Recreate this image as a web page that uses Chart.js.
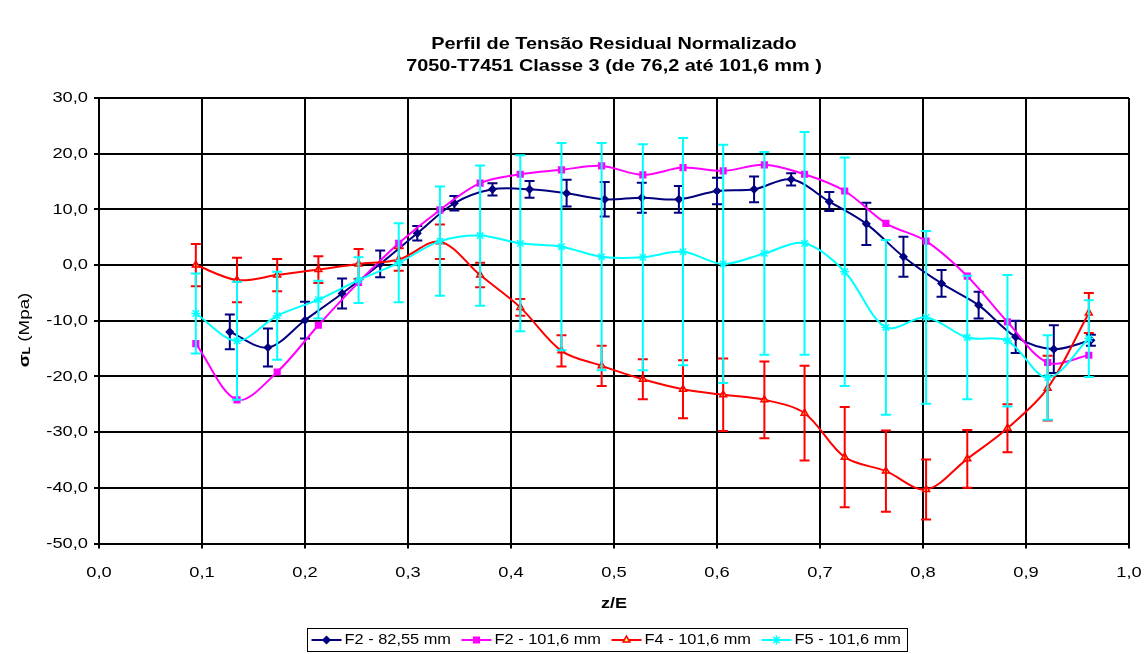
<!DOCTYPE html>
<html>
<head>
<meta charset="utf-8">
<script src="https://cdn.jsdelivr.net/npm/chart.js@4.4.1/dist/chart.umd.min.js"></script>
<style>
  html, body { margin: 0; padding: 0; background: #ffffff; }
  #wrap { width: 1148px; height: 654px; }
</style>
</head>
<body>
<div id="wrap"><canvas id="c" width="1148" height="654"></canvas></div>
<script>
// ---- text ----
const chartTitle = ['Perfil de Tensão Residual Normalizado', '7050-T7451 Classe 3 (de 76,2 até 101,6 mm )'];
const xTitle = 'z/E';
const yTitleSymbol = 'σ';
const yTitleSub = 'L';
const yTitleRest = ' (Mpa)';
const seriesNames = ['F2 - 82,55 mm', 'F2 - 101,6 mm', 'F4 - 101,6 mm', 'F5 - 101,6 mm'];

// ---- axis ticks ----
const xTicks = [0.0, 0.1, 0.2, 0.3, 0.4, 0.5, 0.6, 0.7, 0.8, 0.9, 1.0];
const yTicks = [30, 20, 10, 0, -10, -20, -30, -40, -50];

// ---- positions through the thickness (z/E) ----
const zE_82 = [0.127, 0.164, 0.200, 0.236, 0.273, 0.309, 0.345, 0.382, 0.418, 0.454, 0.491, 0.527,
               0.563, 0.600, 0.636, 0.672, 0.709, 0.745, 0.781, 0.818, 0.854, 0.890, 0.927, 0.963];
const zE_101 = [0.094, 0.134, 0.173, 0.213, 0.252, 0.291, 0.331, 0.370, 0.409, 0.449, 0.488, 0.528,
                0.567, 0.606, 0.646, 0.685, 0.724, 0.764, 0.803, 0.843, 0.882, 0.921, 0.961];

// ---- normalized residual stress (MPa) and scatter (±) ----
const f2_82_val = [-12.0, -14.8, -9.9, -5.1, 0.2, 5.7, 11.1, 13.6, 13.6, 12.9, 11.8, 12.1,
                   11.8, 13.3, 13.6, 15.4, 11.4, 7.4, 1.5, -3.3, -7.2, -12.9, -15.1, -13.5];
const f2_82_err = [3.1, 3.4, 3.3, 2.7, 2.4, 1.3, 1.3, 1.1, 1.5, 2.4, 3.1, 2.7,
                   2.4, 2.4, 2.3, 1.1, 1.7, 3.8, 3.6, 2.4, 2.4, 2.9, 4.3, 1.0];

const f2_101_val = [-14.1, -24.2, -19.2, -10.8, -3.1, 3.9, 9.9, 14.7, 16.3, 17.1, 17.8, 16.2,
                    17.5, 16.9, 18.0, 16.3, 13.3, 7.5, 4.3, -2.0, -10.2, -17.5, -16.2];

const f4_101_val = [0.0, -2.7, -1.8, -0.8, 0.2, 1.0, 4.2, -1.8, -7.6, -15.4, -18.1, -20.5,
                    -22.3, -23.3, -24.2, -26.6, -34.5, -37.0, -40.3, -34.8, -29.3, -22.1, -8.6];
const f4_101_err = [3.8, 4.0, 2.9, 2.4, 2.7, 2.0, 3.1, 2.2, 1.5, 2.8, 3.6, 3.6,
                    5.2, 6.5, 6.9, 8.5, 9.0, 7.3, 5.4, 5.2, 4.3, 5.8, 3.6];

const f5_101_val = [-8.7, -13.6, -9.1, -6.2, -2.7, 0.4, 4.3, 5.3, 3.9, 3.3, 1.5, 1.4,
                    2.4, 0.2, 2.1, 3.9, -1.2, -11.2, -9.4, -13.0, -13.6, -20.2, -13.2];
const f5_101_err = [7.2, 10.6, 7.9, 3.4, 4.1, 7.1, 9.8, 12.6, 15.8, 18.6, 20.4, 20.3,
                    20.4, 21.4, 18.2, 20.0, 20.5, 15.7, 15.5, 11.1, 11.8, 7.6, 6.9];

const FONT = "'Liberation Sans', Arial, sans-serif";
const toPoints = (xs, ys) => xs.map((x, i) => ({ x: x, y: ys[i] }));

function makeSet(label, xs, ys, errs, color, style, radius, fill, order) {
  return {
    label: label,
    data: toPoints(xs, ys),
    errs: errs,
    borderColor: color,
    backgroundColor: fill,
    borderWidth: 2,
    pointStyle: style,
    pointRadius: radius,
    pointBorderColor: color,
    pointBackgroundColor: fill,
    pointBorderWidth: 1.5,
    tension: 0.33,
    showLine: true,
    fill: false,
    order: order
  };
}

const datasets = [
  makeSet(seriesNames[0], zE_82, f2_82_val, f2_82_err, '#000080', 'rectRot', 3.5, '#000080', 4),
  makeSet(seriesNames[1], zE_101, f2_101_val, null, '#ff00ff', 'rect', 4, '#ff00ff', 3),
  makeSet(seriesNames[2], zE_101, f4_101_val, f4_101_err, '#ff0000', 'triangle', 4, '#ffff66', 2),
  makeSet(seriesNames[3], zE_101, f5_101_val, f5_101_err, '#00ffff', 'star', 4.5, '#00ffff', 1)
];

// draw text with an optional horizontal stretch
function drawText(ctx, text, x, y, font, align, sx) {
  ctx.save();
  ctx.translate(x, y);
  ctx.scale(sx, 1);
  ctx.font = font;
  ctx.textAlign = align;
  ctx.textBaseline = 'middle';
  ctx.fillStyle = '#000000';
  ctx.fillText(text, 0, 0);
  ctx.restore();
}

// vertical error bars with caps, per dataset
const errorBars = {
  id: 'errorBars',
  afterDatasetDraw(chart, args) {
    const ds = chart.data.datasets[args.index];
    if (!ds.errs) return;
    const ctx = chart.ctx;
    const yScale = chart.scales.y;
    const xScale = chart.scales.x;
    ctx.save();
    ctx.strokeStyle = ds.borderColor;
    ctx.lineWidth = 2;
    ds.data.forEach((p, i) => {
      const x = xScale.getPixelForValue(p.x);
      const yTop = yScale.getPixelForValue(p.y + ds.errs[i]);
      const yBot = yScale.getPixelForValue(p.y - ds.errs[i]);
      const w = 5;
      ctx.beginPath();
      ctx.moveTo(x, yTop); ctx.lineTo(x, yBot);
      ctx.moveTo(x - w, yTop); ctx.lineTo(x + w, yTop);
      ctx.moveTo(x - w, yBot); ctx.lineTo(x + w, yBot);
      ctx.stroke();
    });
    ctx.restore();
  }
};

// titles, tick labels and the boxed legend
const textLayer = {
  id: 'textLayer',
  afterDraw(chart) {
    const ctx = chart.ctx;
    const area = chart.chartArea;
    const xs = chart.scales.x, ys = chart.scales.y;
    const cx = (area.left + area.right) / 2;

    drawText(ctx, chartTitle[0], cx, 44, 'bold 17px ' + FONT, 'center', 1.17);
    drawText(ctx, chartTitle[1], cx, 66, 'bold 17px ' + FONT, 'center', 1.17);

    yTicks.forEach(v => {
      drawText(ctx, v.toFixed(1).replace('.', ','), area.left - 11, ys.getPixelForValue(v), '15px ' + FONT, 'right', 1.22);
    });
    xTicks.forEach(v => {
      drawText(ctx, v.toFixed(1).replace('.', ','), xs.getPixelForValue(v), area.bottom + 29, '15px ' + FONT, 'center', 1.22);
    });

    drawText(ctx, xTitle, cx, 604, 'bold 15px ' + FONT, 'center', 1.2);

    // rotated y-axis title
    ctx.save();
    ctx.translate(25, 330);
    ctx.rotate(-Math.PI / 2);
    ctx.scale(1.25, 1);
    ctx.fillStyle = '#000000';
    ctx.textBaseline = 'middle';
    ctx.font = 'bold 15px ' + FONT;
    const w1 = ctx.measureText(yTitleSymbol).width;
    ctx.font = 'bold 10px ' + FONT;
    const w2 = ctx.measureText(yTitleSub).width;
    ctx.font = '15px ' + FONT;
    const w3 = ctx.measureText(yTitleRest).width;
    let x0 = -(w1 + w2 + w3) / 2;
    ctx.textAlign = 'left';
    ctx.font = 'bold 15px ' + FONT;
    ctx.fillText(yTitleSymbol, x0, 0);
    ctx.font = 'bold 10px ' + FONT;
    ctx.fillText(yTitleSub, x0 + w1, 2);
    ctx.font = '15px ' + FONT;
    ctx.fillText(yTitleRest, x0 + w1 + w2, 0);
    ctx.restore();

    // legend
    const top = 628.5, h = 23, left = 307.5;
    const itemStep = 150;
    const midY = top + h / 2;
    let right = left;
    chart.data.datasets.forEach((ds, i) => {
      const sx = left + 4 + i * itemStep;
      ctx.save();
      ctx.strokeStyle = ds.borderColor;
      ctx.lineWidth = 2;
      ctx.beginPath();
      ctx.moveTo(sx, midY); ctx.lineTo(sx + 30, midY);
      ctx.stroke();
      ctx.fillStyle = ds.pointBackgroundColor;
      ctx.strokeStyle = ds.pointBorderColor;
      ctx.lineWidth = ds.pointBorderWidth;
      Chart.helpers.drawPoint(ctx, { pointStyle: ds.pointStyle, radius: ds.pointRadius, rotation: 0, borderWidth: ds.pointBorderWidth }, sx + 15, midY);
      ctx.restore();
      drawText(ctx, ds.label, sx + 33, midY, '14px ' + FONT, 'left', 1.17);
      ctx.font = '14px ' + FONT;
      right = sx + 33 + ctx.measureText(ds.label).width * 1.17;
    });
    ctx.save();
    ctx.strokeStyle = '#000000';
    ctx.lineWidth = 1;
    ctx.strokeRect(left, top, Math.round(right + 6 - left), h);
    ctx.restore();
  }
};

new Chart(document.getElementById('c'), {
  type: 'line',
  data: { datasets: datasets },
  options: {
    responsive: false,
    animation: false,
    devicePixelRatio: 1,
    layout: { padding: { top: 98, right: 19, bottom: 90.5, left: 0 } },
    plugins: {
      legend: { display: false },
      title: { display: false },
      tooltip: { enabled: false }
    },
    scales: {
      x: {
        type: 'linear',
        min: 0, max: 1,
        ticks: { stepSize: 0.1, display: false },
        grid: { color: '#000000', lineWidth: 2, drawTicks: true, tickLength: 5, tickColor: '#000000' },
        border: { display: true, color: '#000000', width: 2 },
        afterFit(scale) { scale.height = 20; }
      },
      y: {
        type: 'linear',
        min: -50, max: 30,
        ticks: { stepSize: 10, display: false },
        grid: { color: '#000000', lineWidth: 2, drawTicks: true, tickLength: 5, tickColor: '#000000' },
        border: { display: true, color: '#000000', width: 2 },
        afterFit(scale) { scale.width = 99; }
      }
    }
  },
  plugins: [errorBars, textLayer]
});
</script>
</body>
</html>
